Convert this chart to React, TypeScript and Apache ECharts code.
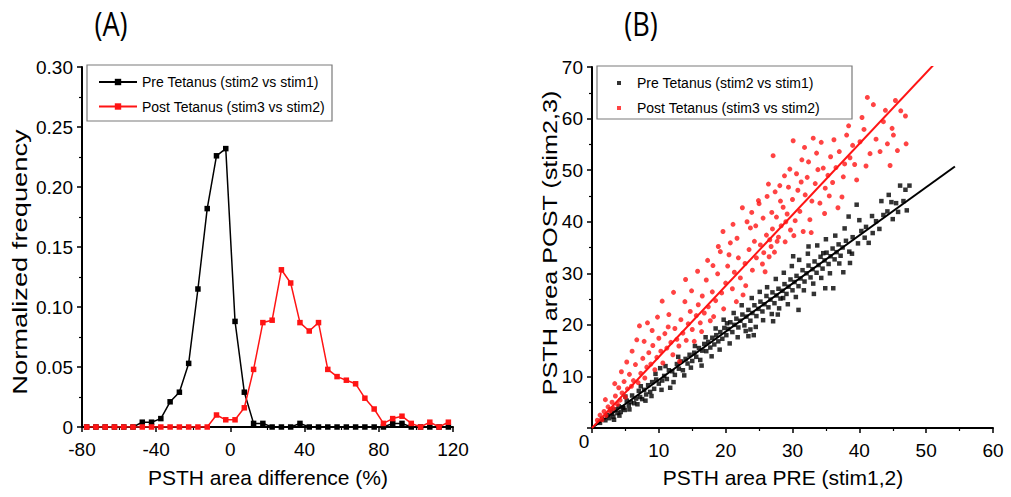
import React, { useEffect, useRef } from "react";
import * as echarts from "echarts";

// ---------- Panel A data ----------
const binCenters = [
  -77.5, -72.5, -67.5, -62.5, -57.5, -52.5, -47.5, -42.5, -37.5, -32.5,
  -27.5, -22.5, -17.5, -12.5, -7.5, -2.5, 2.5, 7.5, 12.5, 17.5,
  22.5, 27.5, 32.5, 37.5, 42.5, 47.5, 52.5, 57.5, 62.5, 67.5,
  72.5, 77.5, 82.5, 87.5, 92.5, 97.5, 102.5, 107.5, 112.5, 117.5,
];
const preFreq = [
  0, 0, 0, 0, 0, 0, 0.004, 0.004, 0.007, 0.021,
  0.029, 0.053, 0.115, 0.182, 0.226, 0.232, 0.088, 0.029, 0.003, 0.003,
  0, 0, 0, 0.003, 0, 0, 0, 0, 0, 0,
  0, 0, 0, 0.003, 0.003, 0, 0, 0, 0, 0,
];
const postFreq = [
  0, 0, 0, 0, 0, 0, 0, 0, 0, 0,
  0, 0, 0, 0, 0.01, 0.006, 0.006, 0.016, 0.048, 0.087,
  0.089, 0.131, 0.12, 0.087, 0.08, 0.087, 0.048, 0.042, 0.039, 0.036,
  0.024, 0.015, 0.003, 0.007, 0.009, 0.003, 0, 0.004, 0, 0.004,
];

// ---------- Panel B data ----------
const prePoints: number[][] = [
  [1.2, 1.0], [1.5, 1.8], [2.0, 1.5], [2.3, 2.5], [2.6, 1.9], [3.0, 2.8], [3.2, 2.2], [3.5, 3.6],
  [3.8, 2.9], [4.0, 4.2], [4.3, 3.1], [4.6, 4.0], [4.7, 3.9], [4.9, 3.5], [5.2, 5.3], [5.5, 4.4],
  [5.8, 5.0], [6.0, 6.3], [6.3, 4.8], [6.6, 5.7], [7.0, 7.2], [7.2, 6.0], [7.5, 5.6], [7.8, 7.4],
  [8.1, 6.5], [8.4, 8.3], [8.7, 7.0], [9.0, 8.9], [9.3, 7.6], [9.6, 9.4], [10.0, 8.6], [10.2, 11.6],
  [10.5, 9.2], [10.8, 10.1], [11.2, 9.5], [11.5, 11.2], [11.7, 7.8], [12.0, 11.0], [12.4, 10.3], [12.7, 12.4],
  [13.0, 11.5], [13.3, 12.9], [13.6, 11.2], [14.0, 13.4], [14.3, 12.5], [14.6, 14.2], [15.0, 13.0], [15.3, 14.6],
  [15.6, 13.8], [16.0, 15.5], [16.2, 13.2], [16.5, 15.0], [16.8, 16.3], [17.1, 14.9], [17.4, 16.7], [17.7, 15.6],
  [18.0, 17.5], [18.3, 16.2], [18.6, 18.0], [18.9, 16.8], [19.2, 18.6], [19.5, 17.3], [19.8, 19.4], [20.1, 18.0],
  [20.2, 20.3], [20.4, 19.2], [20.7, 20.5], [21.0, 18.6], [21.3, 20.0], [21.6, 21.2], [21.9, 19.5], [22.2, 20.8],
  [22.5, 22.0], [22.8, 19.9], [23.1, 21.6], [23.4, 17.8], [23.4, 22.9], [23.7, 19.1], [23.7, 20.8], [24.0, 22.3],
  [24.3, 23.8], [24.6, 21.7], [24.9, 23.1], [25.2, 24.5], [25.5, 22.6], [25.8, 24.0], [26.1, 25.6], [26.4, 23.4],
  [26.7, 24.9], [27.0, 26.3], [27.1, 20.7], [27.3, 24.2], [27.6, 25.7], [27.9, 27.0], [28.2, 25.1], [28.5, 26.6],
  [28.6, 25.2], [28.8, 27.9], [29.1, 26.0], [29.4, 27.4], [29.7, 28.8], [30.0, 26.7], [30.1, 33.3], [30.3, 28.3],
  [30.6, 29.5], [30.9, 27.5], [31.2, 29.0], [31.5, 30.6], [31.8, 28.4], [32.1, 30.0], [32.4, 31.5], [32.4, 35.2],
  [32.7, 29.2], [33.0, 30.8], [33.3, 32.3], [33.6, 30.1], [33.9, 31.6], [34.2, 33.2], [34.5, 30.9], [34.6, 33.9],
  [34.8, 32.5], [34.9, 27.1], [35.1, 34.0], [35.4, 31.8], [35.7, 33.3], [36.0, 34.8], [36.1, 27.1], [36.3, 32.7],
  [36.6, 34.1], [36.9, 35.6], [37.2, 33.4], [37.5, 35.0], [37.6, 30.2], [38.0, 36.3], [38.4, 41.0], [38.5, 34.2],
  [38.6, 32.0], [39.0, 37.0], [39.6, 43.3], [39.8, 35.8], [40.3, 38.2], [40.8, 36.9], [41.4, 35.9], [41.9, 41.1],
  [42.5, 40.1], [43.0, 38.6], [43.6, 41.3], [44.2, 42.0], [44.4, 45.2], [45.0, 40.5], [45.5, 43.6], [46.1, 47.0],
  [46.6, 44.0], [47.1, 42.2], [47.5, 47.0],
  [2.8, 3.6], [3.3, 1.6], [4.1, 2.4], [5.0, 6.1], [5.6, 3.6], [6.8, 4.6], [7.3, 8.1], [8.0, 5.3],
  [8.9, 6.2], [9.5, 10.5], [10.4, 7.4], [11.0, 12.0], [12.2, 8.9], [12.9, 13.8], [13.8, 10.2], [14.8, 11.7],
  [15.4, 15.9], [16.4, 12.1], [17.0, 17.6], [17.9, 13.9], [18.5, 19.3], [19.1, 15.2], [19.7, 21.0], [20.6, 16.4],
  [21.2, 22.3], [21.8, 17.6], [22.4, 23.8], [23.0, 18.8], [23.9, 25.2], [24.5, 19.6], [25.1, 26.4], [25.6, 20.9],
  [26.2, 27.3], [26.9, 22.1], [27.5, 28.9], [28.0, 23.2], [28.7, 30.1], [29.3, 24.0], [29.9, 31.4], [30.5, 25.4],
  [31.0, 32.6], [31.7, 26.7], [32.3, 33.8], [33.1, 28.0], [33.7, 35.4], [34.3, 29.1], [35.0, 36.6], [35.6, 30.0],
  [36.4, 37.3], [37.0, 31.9], [37.8, 38.7], [38.9, 33.8], [40.0, 40.3], [41.0, 39.0], [42.0, 37.8], [43.3, 44.0],
  [44.8, 43.8], [45.8, 41.9], [46.9, 46.2], [30.9, 22.9], [27.8, 22.0], [24.2, 18.0], [33.2, 26.0],
];
const postPoints: number[][] = [
  [0.8, 1.5], [1.2, 2.5], [1.5, 1.6], [1.8, 3.2], [2.1, 2.4], [2.4, 4.1], [2.7, 3.3], [3.0, 5.0],
  [3.2, 3.8], [3.5, 6.2], [3.8, 4.6], [4.0, 7.8], [4.2, 5.4], [4.5, 6.8], [4.8, 9.0], [5.0, 6.0],
  [5.3, 7.6], [5.6, 10.4], [5.9, 8.1], [6.2, 9.2], [6.5, 12.3], [6.7, 17.1], [6.9, 8.8], [7.1, 19.8],
  [7.3, 10.6], [7.6, 13.5], [7.9, 9.7], [8.2, 11.8], [8.5, 14.6], [8.8, 12.4], [9.1, 16.0], [9.4, 11.3],
  [9.7, 13.7], [10.0, 17.4], [10.3, 14.9], [10.6, 12.6], [10.9, 18.3], [11.2, 15.5], [11.5, 22.0], [11.8, 16.6],
  [12.1, 14.2], [12.4, 19.3], [12.7, 17.2], [13.0, 15.9], [13.3, 21.0], [13.6, 18.4], [13.9, 24.5], [14.1, 17.0],
  [14.4, 20.2], [14.7, 22.6], [15.0, 19.1], [15.3, 16.8], [15.6, 21.8], [15.9, 23.9], [16.2, 20.4], [16.5, 25.6],
  [16.8, 22.3], [17.1, 28.7], [17.4, 23.5], [17.7, 20.8], [18.0, 26.4], [18.2, 21.6], [18.5, 24.7], [18.8, 29.9],
  [19.2, 34.2], [19.4, 26.2], [19.7, 23.1], [20.0, 28.1], [20.3, 31.4], [20.7, 35.9], [21.0, 27.0], [21.3, 30.2],
  [21.6, 24.5], [21.9, 33.0], [22.2, 29.1], [22.6, 25.8], [22.9, 31.9], [23.2, 40.0], [23.5, 34.6], [23.7, 38.8],
  [24.0, 30.6], [24.3, 36.2], [24.6, 33.0], [24.9, 44.1], [25.2, 35.5], [25.5, 31.8], [25.9, 30.3], [26.1, 37.4],
  [26.4, 47.3], [26.6, 36.5], [26.8, 35.2], [27.0, 38.6], [27.1, 52.8], [27.3, 34.1], [27.6, 40.9], [27.9, 37.0],
  [28.1, 47.0], [28.3, 39.2], [28.6, 42.8], [28.9, 36.1], [29.2, 41.5], [29.4, 46.7], [29.7, 38.4], [30.0, 44.3],
  [30.1, 55.7], [30.4, 40.2], [30.8, 46.1], [31.1, 42.0], [31.4, 52.0], [31.6, 38.1], [31.9, 45.2], [32.2, 48.6],
  [32.6, 40.4], [32.9, 44.0], [33.1, 56.2], [33.4, 47.4], [33.8, 50.1], [34.1, 43.6], [34.6, 50.4], [34.9, 46.5],
  [35.3, 49.0], [35.7, 52.6], [36.0, 47.6], [36.5, 50.5], [37.0, 53.6], [37.4, 44.8], [37.8, 51.2], [38.1, 56.8],
  [38.6, 52.4], [39.0, 54.8], [39.6, 48.1], [40.1, 55.5], [40.7, 57.9], [41.2, 64.1], [41.6, 53.2], [42.1, 62.7],
  [42.5, 56.0], [43.1, 53.6], [43.6, 59.4], [44.2, 55.1], [44.9, 58.1], [45.1, 56.8], [45.7, 53.8], [46.2, 61.5],
  [46.9, 60.5], [47.0, 55.1],
  [2.0, 5.5], [3.4, 8.6], [4.4, 10.9], [5.2, 12.8], [6.0, 14.9], [7.8, 16.8], [8.3, 20.4], [9.0, 18.9],
  [9.8, 21.5], [10.5, 24.6], [11.4, 19.6], [12.2, 26.3], [13.1, 12.9], [14.0, 28.8], [14.9, 26.6], [15.8, 30.4],
  [16.4, 18.7], [17.3, 32.5], [18.1, 31.5], [18.9, 35.2], [19.6, 38.1], [20.5, 33.6], [21.1, 39.5], [21.7, 36.8],
  [22.5, 42.7], [23.0, 27.6], [23.9, 41.8], [24.5, 39.2], [25.0, 43.5], [25.6, 40.7], [25.7, 34.0], [26.2, 44.9],
  [26.5, 33.2], [26.9, 41.8], [27.4, 45.8], [27.7, 36.2], [28.2, 44.0], [28.8, 48.9], [29.0, 40.0], [29.6, 50.2],
  [30.2, 37.3], [30.6, 49.3], [31.3, 47.7], [31.8, 54.4], [32.4, 51.6], [32.8, 37.9], [33.6, 53.3], [34.3, 55.4],
  [34.8, 41.6], [35.5, 45.0], [36.2, 55.9], [36.8, 42.7], [37.6, 48.7], [38.4, 58.6], [39.3, 51.1], [40.4, 60.2],
  [41.0, 50.8], [43.9, 61.6], [45.4, 63.5], [44.6, 50.9],
];
const preFit: number[][] = [[0, 0], [54.3, 50.7]];
const postFit: number[][] = [[0, 0], [51.1, 70.4]];

const preName = "Pre Tetanus (stim2 vs stim1)";
const postName = "Post Tetanus (stim3 vs stim2)";

const FONT = '"Liberation Sans", Arial, sans-serif';

export default function App() {
  const ref = useRef<HTMLDivElement>(null);
  useEffect(() => {
    document.body.style.margin = "0";
    if (!ref.current) return;
    const chart = echarts.init(ref.current, null, { renderer: "svg" });

    const axisCommon = {
      axisLine: { show: true, onZero: false, lineStyle: { color: "#000", width: 2 } },
      axisTick: { show: true, inside: false, length: 5, lineStyle: { color: "#000", width: 1.5 } },
      minorTick: { show: true, splitNumber: 2, length: 3, lineStyle: { color: "#000", width: 1.2 } },
      splitLine: { show: false },
      minorSplitLine: { show: false },
    };
    const labelStyle = { color: "#000", fontSize: 19, fontFamily: FONT };

    const option: any = {
      animation: false,
      backgroundColor: "#fff",
      textStyle: { fontFamily: FONT },
      grid: [
        { left: 82, top: 67, width: 371, height: 360 },
        { left: 592, top: 67, width: 401, height: 361 },
      ],
      xAxis: [
        {
          gridIndex: 0, type: "value", min: -80, max: 120, interval: 40,
          ...axisCommon,
          axisLabel: { ...labelStyle, margin: 13 },
        },
        {
          gridIndex: 1, type: "value", min: 0, max: 60, interval: 10,
          ...axisCommon,
          axisLabel: { ...labelStyle, margin: 13, formatter: (v: number) => (v === 0 ? "" : String(v)) },
        },
      ],
      yAxis: [
        {
          gridIndex: 0, type: "value", min: 0, max: 0.3, interval: 0.05,
          ...axisCommon,
          axisLabel: { ...labelStyle, margin: 9, formatter: (v: number) => (v === 0 ? "0" : v.toFixed(2)) },
        },
        {
          gridIndex: 1, type: "value", min: 0, max: 70, interval: 10,
          ...axisCommon,
          axisLabel: { ...labelStyle, margin: 9, showMinLabel: false, formatter: (v: number) => (v === 0 ? "" : String(v)) },
        },
      ],
      legend: [
        {
          orient: "vertical", left: 98, top: 74, padding: 0,
          itemWidth: 38, itemHeight: 8, itemGap: 8.5,
          data: [preName, postName],
          textStyle: { fontSize: 14, fontFamily: FONT, color: "#000", lineHeight: 16 },
        },
        {
          orient: "vertical", left: 617, top: 75, padding: 0,
          itemWidth: 4, itemHeight: 4, itemGap: 9,
          icon: "rect",
          data: [
            { name: preName + " ", itemStyle: { color: "#000" } },
            { name: postName + " ", itemStyle: { color: "#ff1414" } },
          ],
          textStyle: { fontSize: 14, fontFamily: FONT, color: "#000", lineHeight: 16, padding: [0, 0, 0, 11] },
        },
      ],
      series: [
        {
          name: preName, type: "line", xAxisIndex: 0, yAxisIndex: 0,
          data: binCenters.map((x, i) => [x, preFreq[i]]),
          symbol: "rect", symbolSize: 5.5,
          lineStyle: { color: "#000", width: 1.5 },
          itemStyle: { color: "#000" },
          z: 2,
        },
        {
          name: postName, type: "line", xAxisIndex: 0, yAxisIndex: 0,
          data: binCenters.map((x, i) => [x, postFreq[i]]),
          symbol: "rect", symbolSize: 5.5,
          lineStyle: { color: "#ff1414", width: 1.5 },
          itemStyle: { color: "#ff1414" },
          z: 3,
        },
        {
          name: preName + " ", type: "scatter", xAxisIndex: 1, yAxisIndex: 1,
          data: prePoints, symbol: "rect", symbolSize: 4.5,
          itemStyle: { color: "#000" }, z: 2,
        },
        {
          name: "preFit", type: "line", xAxisIndex: 1, yAxisIndex: 1,
          data: preFit, symbol: "none",
          lineStyle: { color: "#000", width: 2 }, z: 3,
        },
        {
          name: postName + " ", type: "scatter", xAxisIndex: 1, yAxisIndex: 1,
          data: postPoints, symbol: "circle", symbolSize: 5,
          itemStyle: { color: "#ff1414" }, z: 4,
        },
        {
          name: "postFit", type: "line", xAxisIndex: 1, yAxisIndex: 1,
          data: postFit, symbol: "none",
          lineStyle: { color: "#ff1414", width: 2 }, z: 5,
        },
      ],
      graphic: [
        { type: "rect", shape: { x: 87, y: 65, width: 245, height: 56 }, style: { fill: "none", stroke: "#7a7a7a", lineWidth: 1.2 }, z: 10 },
        { type: "rect", shape: { x: 597, y: 66, width: 255, height: 53 }, style: { fill: "none", stroke: "#7a7a7a", lineWidth: 1.2 }, z: 10 },
        { type: "text", x: 111, y: 24, scaleX: 0.85, style: { text: "(A)", fontSize: 32, fontFamily: '"Open Sans", sans-serif', fill: "#000", align: "center", verticalAlign: "middle" } },
        { type: "text", x: 641, y: 24, scaleX: 0.85, style: { text: "(B)", fontSize: 32, fontFamily: '"Open Sans", sans-serif', fill: "#000", align: "center", verticalAlign: "middle" } },
        { type: "text", x: 268, y: 477, style: { text: "PSTH area difference (%)", fontSize: 21, fontFamily: FONT, fill: "#000", align: "center", verticalAlign: "middle" } },
        { type: "text", x: 783, y: 477, style: { text: "PSTH area PRE (stim1,2)", fontSize: 21, fontFamily: FONT, fill: "#000", align: "center", verticalAlign: "middle" } },
        { type: "text", x: 20, y: 262, rotation: Math.PI / 2, scaleX: 1.3, style: { text: "Normalized frequency", fontSize: 21, fontFamily: FONT, fill: "#000", align: "center", verticalAlign: "middle" } },
        { type: "text", x: 550, y: 243, rotation: Math.PI / 2, scaleX: 1.2, style: { text: "PSTH area POST (stim2,3)", fontSize: 21, fontFamily: FONT, fill: "#000", align: "center", verticalAlign: "middle" } },
        { type: "text", x: 584, y: 441, style: { text: "0", fontSize: 19, fontFamily: FONT, fill: "#000", align: "center", verticalAlign: "middle" } },
      ],
    };
    chart.setOption(option);
    return () => chart.dispose();
  }, []);
  return <div ref={ref} style={{ width: 1011, height: 497 }} />;
}
